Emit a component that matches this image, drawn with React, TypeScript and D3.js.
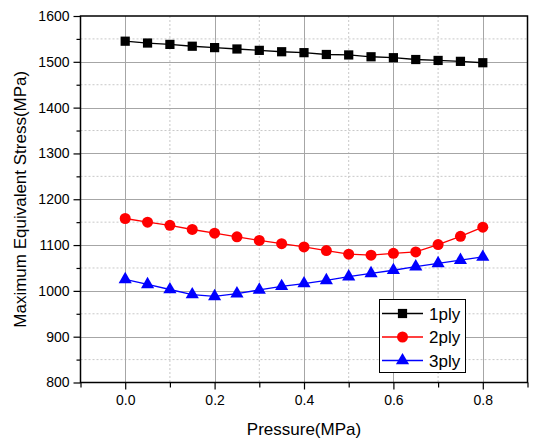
import React, { useRef, useEffect } from "react";
import * as d3 from "d3";

// pressure values (MPa)
const pressure = [0, 0.05, 0.1, 0.15, 0.2, 0.25, 0.3, 0.35, 0.4, 0.45, 0.5, 0.55, 0.6, 0.65, 0.7, 0.75, 0.8];

const ply1 = [1545, 1541, 1538, 1534, 1531, 1528, 1525, 1522, 1520, 1516, 1515, 1511, 1509, 1505, 1503, 1501, 1498];
const ply2 = [1158, 1150, 1143, 1134, 1126, 1118, 1110, 1103, 1096, 1088, 1080, 1078, 1082, 1085, 1101, 1119, 1139];
const ply3 = [1025, 1014, 1003, 992, 988, 994, 1002, 1010, 1016, 1023, 1031, 1038, 1045, 1053, 1060, 1067, 1074];

const seriesNames = ["1ply", "2ply", "3ply"];
const seriesColors = ["#000000", "#ff0000", "#0000ff"];
const seriesShapes = ["square", "circle", "triangle"];

const xTicks = [0, 0.2, 0.4, 0.6, 0.8];
const yTicks = [800, 900, 1000, 1100, 1200, 1300, 1400, 1500, 1600];

const App = () => {
  const ref = useRef(null);
  const width = 534;
  const height = 441;
  const m = { left: 80.5, right: 527.5, top: 16, bottom: 382.5 };

  useEffect(() => {
    const svg = d3.select(ref.current);
    svg.selectAll("*").remove();

    const x = d3.scaleLinear().domain([-0.1, 0.9]).range([m.left, m.right]);
    const y = d3.scaleLinear().domain([800, 1600]).range([m.bottom, m.top]);

    const grid = svg.append("g");
    // minor grid (dotted)
    d3.range(0.1, 0.9, 0.2).forEach((v) => {
      grid.append("line")
        .attr("x1", x(v)).attr("x2", x(v))
        .attr("y1", m.top).attr("y2", m.bottom)
        .attr("stroke", "#c8c8c8").attr("stroke-dasharray", "2,2");
    });
    d3.range(850, 1600, 100).forEach((v) => {
      grid.append("line")
        .attr("x1", m.left).attr("x2", m.right)
        .attr("y1", y(v)).attr("y2", y(v))
        .attr("stroke", "#c8c8c8").attr("stroke-dasharray", "2,2");
    });
    // major grid
    xTicks.forEach((v) => {
      grid.append("line")
        .attr("x1", Math.round(x(v)) + 0.5).attr("x2", Math.round(x(v)) + 0.5)
        .attr("y1", m.top).attr("y2", m.bottom)
        .attr("stroke", "#a6a6a6");
    });
    yTicks.slice(1, -1).forEach((v) => {
      grid.append("line")
        .attr("x1", m.left).attr("x2", m.right)
        .attr("y1", Math.round(y(v)) + 0.5).attr("y2", Math.round(y(v)) + 0.5)
        .attr("stroke", "#a6a6a6");
    });

    // frame
    svg.append("rect")
      .attr("x", m.left).attr("y", m.top)
      .attr("width", m.right - m.left).attr("height", m.bottom - m.top)
      .attr("fill", "none").attr("stroke", "#000").attr("stroke-width", 1.5);

    const font = "'Liberation Sans', Arial, sans-serif";

    // x axis
    const xAxis = d3.axisBottom(x).tickValues(xTicks).tickFormat(d3.format(".1f")).tickSize(7).tickPadding(6);
    const gx = svg.append("g").attr("transform", `translate(0,${m.bottom})`).call(xAxis);
    gx.select(".domain").remove();
    gx.selectAll("line").attr("stroke-width", 1.2);
    gx.selectAll("text").style("font-family", font).style("font-size", "14px").attr("fill", "#000");
    const gxm = svg.append("g").attr("transform", `translate(0,${m.bottom})`)
      .call(d3.axisBottom(x).tickValues([-0.1, 0.1, 0.3, 0.5, 0.7, 0.9]).tickFormat(() => "").tickSize(5));
    gxm.select(".domain").remove();
    gxm.selectAll("line").attr("stroke-width", 1.2);

    // y axis
    const yAxis = d3.axisLeft(y).tickValues(yTicks).tickFormat(d3.format("d")).tickSize(7).tickPadding(4);
    const gy = svg.append("g").attr("transform", `translate(${m.left},0)`).call(yAxis);
    gy.select(".domain").remove();
    gy.selectAll("line").attr("stroke-width", 1.2);
    gy.selectAll("text").style("font-family", font).style("font-size", "14px").attr("fill", "#000");
    const gym = svg.append("g").attr("transform", `translate(${m.left},0)`)
      .call(d3.axisLeft(y).tickValues(d3.range(850, 1600, 100)).tickFormat(() => "").tickSize(4));
    gym.select(".domain").remove();
    gym.selectAll("line").attr("stroke-width", 1.2);

    // axis titles
    svg.append("text")
      .attr("x", (m.left + m.right) / 2).attr("y", 435)
      .attr("text-anchor", "middle")
      .style("font-family", font).style("font-size", "17px")
      .text("Pressure(MPa)");
    svg.append("text")
      .attr("transform", `translate(26,${(m.top + m.bottom) / 2}) rotate(-90)`)
      .attr("text-anchor", "middle")
      .style("font-family", font).style("font-size", "17px")
      .text("Maximum Equivalent Stress(MPa)");

    const symbols = {
      square: d3.symbol().type(d3.symbolSquare).size(85),
      circle: d3.symbol().type(d3.symbolCircle).size(95),
      triangle: d3.symbol().type(d3.symbolTriangle).size(75),
    };

    const allSeries = [ply1, ply2, ply3];
    const line = d3.line<number>().x((d, i) => x(pressure[i])).y((d) => y(d));

    allSeries.forEach((vals, si) => {
      svg.append("path")
        .attr("d", line(vals))
        .attr("fill", "none")
        .attr("stroke", seriesColors[si])
        .attr("stroke-width", 1.3);
      svg.append("g")
        .selectAll("path")
        .data(vals)
        .enter()
        .append("path")
        .attr("d", symbols[seriesShapes[si]]())
        .attr("transform", (d, i) => `translate(${x(pressure[i])},${y(d)})`)
        .attr("fill", seriesColors[si]);
    });

    // legend
    const legend = svg.append("g").attr("transform", "translate(379,299)");
    legend.append("rect")
      .attr("x", 0.5).attr("y", 0.5).attr("width", 86).attr("height", 73)
      .attr("fill", "#fff").attr("stroke", "#000");
    seriesNames.forEach((name, i) => {
      const ly = 14.5 + i * 23.5;
      legend.append("line")
        .attr("x1", 3).attr("x2", 44).attr("y1", ly).attr("y2", ly)
        .attr("stroke", seriesColors[i]).attr("stroke-width", 1.3);
      legend.append("path")
        .attr("d", symbols[seriesShapes[i]]())
        .attr("transform", `translate(23.5,${ly})`)
        .attr("fill", seriesColors[i]);
      legend.append("text")
        .attr("x", 50).attr("y", ly + 6)
        .style("font-family", font).style("font-size", "17px")
        .text(name);
    });
  }, []);

  return (
    <svg ref={ref} width={width} height={height} style={{ position: "absolute", left: 0, top: 0, background: "#fff" }} />
  );
};

export default App;
